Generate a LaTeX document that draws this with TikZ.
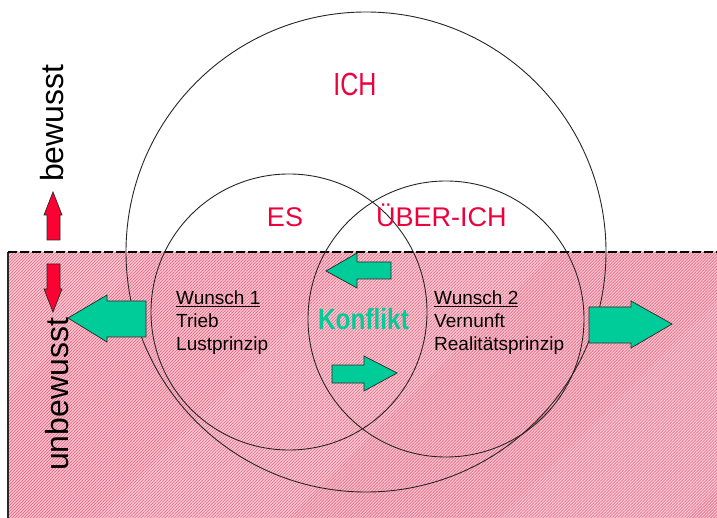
\documentclass[tikz,border=0pt]{standalone}
\usepackage{fontspec}
\setmainfont{Liberation Sans}
\usetikzlibrary{patterns.meta}
\definecolor{psyred}{RGB}{238,0,60}
\definecolor{arrowred}{RGB}{255,0,51}
\definecolor{psygreen}{RGB}{0,204,153}
\definecolor{hatchbase}{RGB}{250,205,214}
\definecolor{hatchpink}{RGB}{236,112,140}
\definecolor{outline}{RGB}{40,40,40}
\tikzset{
  ring/.style={draw=black!85, line width=0.9pt},
  greenarrow/.style={fill=psygreen, draw=outline, line width=0.7pt, line join=miter},
  redarrow/.style={fill=arrowred, draw=outline, line width=0.7pt, line join=miter},
  label/.style={inner sep=0pt, text=psyred},
  body/.style={inner sep=0pt, anchor=base west, font=\fontsize{19}{22}\selectfont},
  side/.style={inner sep=0pt, rotate=90, anchor=base west, font=\fontsize{32}{38}\selectfont}
}
\begin{document}
\begin{tikzpicture}[x=1pt, y=-1pt]
\useasboundingbox (0,0) rectangle (717,518);
\fill[white] (0,0) rectangle (717,518);

% unconscious zone: hatched area below the dashed border
\fill[hatchbase] (8,252) rectangle (717,518);
\fill[pattern={Lines[angle=45, distance=2.12pt, line width=0.8pt]}, pattern color=hatchpink]
  (8,252) rectangle (717,518);
\draw[outline, line width=1.4pt] (8,252) -- (8,518);
\draw[black, line width=2.2pt, dash pattern=on 9pt off 3pt] (8,252) -- (717,252);

% the three psychic instances
\draw[ring] (366,252) circle[radius=240pt];
\draw[ring] (289,312) circle[radius=138pt];
\draw[ring] (446,319) circle[radius=138pt];

% block arrows
\draw[greenarrow] (68,318) -- (107,295) -- (107,301) -- (146,301) -- (146,337)
  -- (107,337) -- (107,342) -- cycle;
\draw[greenarrow] (589,307) -- (631,307) -- (631,301) -- (672,324) -- (631,348)
  -- (631,343) -- (589,343) -- cycle;
\draw[greenarrow] (326,271) -- (357,253) -- (357,262) -- (391,262) -- (391,279)
  -- (357,279) -- (357,288) -- cycle;
\draw[greenarrow] (332,365) -- (364,365) -- (364,356) -- (397,373) -- (364,391)
  -- (364,383) -- (332,383) -- cycle;
\draw[redarrow] (53,192) -- (62,215) -- (60,215) -- (60,240) -- (47,240)
  -- (47,215) -- (44,215) -- cycle;
\draw[redarrow] (47,264) -- (60,264) -- (60,289) -- (62,289) -- (53,312)
  -- (44,289) -- (47,289) -- cycle;

% labels
\node[label, anchor=base] (ich) at (355,96)
  {\fontsize{25}{30}\selectfont\scalebox{1}[1.28]{ICH}};
\node[label, anchor=base, font=\fontsize{27}{32}\selectfont] (es) at (285,227) {ES};
\node[label, anchor=base west, font=\fontsize{27}{32}\selectfont] (ueberich) at (376,227) {ÜBER-ICH};
\node[inner sep=0pt, anchor=base, text=psygreen] (konflikt) at (363.5,330)
  {\fontsize{24.4}{29}\selectfont\bfseries\scalebox{1}[1.2]{Konflikt}};

\node[body] (w1) at (176,305) {\underline{Wunsch 1}};
\node[body] (w1a) at (176,327.5) {Trieb};
\node[body] (w1b) at (176,350) {Lustprinzip};
\node[body] (w2) at (434,305) {\underline{Wunsch 2}};
\node[body] (w2a) at (434,327.5) {Vernunft};
\node[body] (w2b) at (434,350) {Realitätsprinzip};

\node[side] (bewusst) at (63,182) {bewusst};
\node[side] (unbewusst) at (68,471) {unbewusst};
\end{tikzpicture}
\end{document}
